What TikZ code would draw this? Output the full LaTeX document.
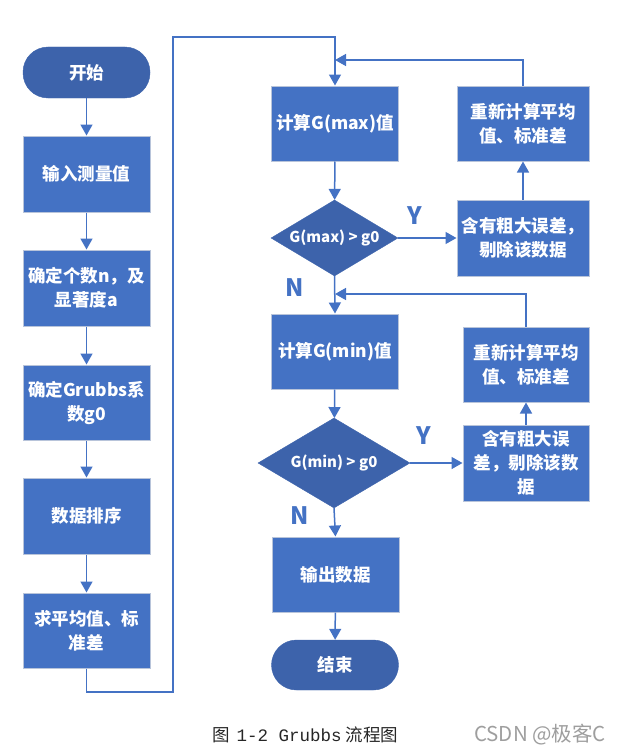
\documentclass[tikz,border=0pt]{standalone}
\usepackage{fontspec}
\setmainfont{Noto Sans CJK SC}
\newfontfamily\capfont{Noto Sans CJK SC}
\newfontfamily\capmono{Liberation Mono}
\usetikzlibrary{arrows.meta,shapes.geometric}
\definecolor{boxblue}{HTML}{4472C4}
\definecolor{darkblue}{HTML}{3D63AB}
\definecolor{edgegray}{HTML}{B8C4DA}
\definecolor{lineblue}{HTML}{4472C4}
\tikzset{
  procbox/.style={rectangle, draw=edgegray, line width=1pt, fill=boxblue,
    minimum width=127pt, minimum height=76pt, inner sep=1pt, text=white,
    font=\fontsize{17.5}{24}\selectfont\bfseries, align=center},
  termbox/.style={rectangle, rounded corners=25pt, fill=darkblue, draw=darkblue,
    minimum width=127pt, minimum height=51pt, text=white,
    font=\fontsize{17.5}{24}\selectfont\bfseries},
  decbox/.style={diamond, aspect=1.67, fill=darkblue, draw=darkblue, inner sep=0pt,
    text=white, font=\fontsize{15}{20}\selectfont\bfseries},
  flow/.style={draw=lineblue, line width=1.5pt, -{Triangle[length=11pt,width=12pt]}},
  yn/.style={text=lineblue, font=\fontsize{24}{24}\selectfont\bfseries}
}
\begin{document}
\begin{tikzpicture}[x=1pt,y=-1pt]
\useasboundingbox (0,0) rectangle (625,752);
% left column
\node[termbox] (start) at (86.5,72.5) {开始};
\node[procbox] (b1) at (86.5,174) {输入测量值};
\node[procbox] (b2) at (86.5,288) {确定个数n，及\\显著度a};
\node[procbox, minimum height=75pt] (b3) at (86.5,402.5) {确定Grubbs系\\数g0};
\node[procbox] (b4) at (86.5,516) {数据排序};
\node[procbox, minimum height=75pt] (b5) at (86.5,630.5) {求平均值、标\\准差};
% middle column
\node[procbox, minimum height=75pt] (gmax) at (335,123.5) {计算G(max)值};
\node[decbox, minimum width=127pt, minimum height=76pt] (d1) at (334.5,238) {G(max) > g0};
\node[procbox, minimum height=75pt] (gmin) at (335,351.5) {计算G(min)值};
\node[decbox, minimum width=152pt, minimum height=90pt] (d2) at (334,463) {G(min) > g0};
\node[procbox, minimum height=75pt] (out) at (335.5,574.5) {输出数据};
\node[termbox, minimum height=50pt] (end) at (335,665) {结束};
% right column
\node[procbox, minimum width=132pt] (e1) at (523,238) {含有粗大误差，\\剔除该数据};
\node[procbox, minimum width=132pt, minimum height=75pt] (r1) at (523,123.5) {重新计算平均\\值、标准差};
\node[procbox, minimum width=126pt] (e2) at (526,463) {含有粗大误\\差，剔除该数\\据};
\node[procbox, minimum width=126pt, minimum height=75pt] (r2) at (526,364.5) {重新计算平均\\值、标准差};
% loop coordinates
\coordinate (lbot) at (86.5,692);
\coordinate (lcor) at (173,692);
\coordinate (tcor) at (173,37);
\coordinate (mtop) at (335,37);
\coordinate (j1) at (335,60);
\coordinate (r1up) at (523,60);
\coordinate (j2) at (335,294);
\coordinate (r2up) at (526,294);
% left arrows
\draw[flow] (start) -- (b1);
\draw[flow] (b1) -- (b2);
\draw[flow] (b2) -- (b3);
\draw[flow] (b3) -- (b4);
\draw[flow] (b4) -- (b5);
\draw[flow] (b5.south) -- (lbot) -- (lcor) -- (tcor) -- (mtop) -- (gmax.north);
% middle
\draw[flow] (gmax) -- (d1);
\draw[flow] (d1.south) -- (gmin.north);
\draw[flow] (gmin) -- (d2);
\draw[flow] (d2.south) -- (out.north);
\draw[flow] (out) -- (end);
% right loops
\draw[flow] (d1.east) -- (e1.west);
\draw[flow] (e1) -- (r1);
\draw[flow] (r1.north) -- (r1up) -- (j1);
\draw[flow] (d2.east) -- (e2.west |- d2.east);
\draw[flow] (e2) -- (r2);
\draw[flow] (r2.north) -- (r2up) -- (j2);
% labels
\node[yn] (y1) at (415,216) {Y};
\node[yn] (n1) at (295,288) {N};
\node[yn] (y2) at (424,436) {Y};
\node[yn] (n2) at (300,516) {N};
% caption
\node[anchor=west, font=\fontsize{17.5}{17.5}\selectfont, text=black!85, inner sep=0pt] (cap) at (212,735) {\capfont 图\hspace{7pt}\capmono 1-2 Grubbs\hspace{4pt}\capfont 流程图};
\node[anchor=west, font=\fontsize{20.5}{20.5}\selectfont, text=black!38, inner sep=0pt] (wm) at (474,735) {CSDN @极客C};
\end{tikzpicture}
\end{document}
